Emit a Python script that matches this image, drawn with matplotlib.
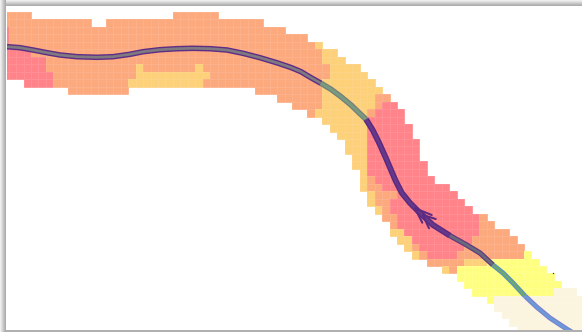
import numpy as np
import matplotlib
matplotlib.use("Agg")
import matplotlib.pyplot as plt
from matplotlib.colors import ListedColormap
from matplotlib.patches import Rectangle

# density classes, low to high
class_codes = "cylor"
class_colors = ["#FBF4DF", "#FEFF80", "#FDD07A", "#FDA97E", "#FF8388"]

# one entry per grid row: class letter + column range
grid_rows = [
    "o0-3 o23-28",
    "o0-11 o14-34",
    "r0 o1-37",
    "r0 o1-40",
    "r0 o1-41 l42",
    "r0-3 o4-42 l43-44",
    "r0-5 o6-42 l43-45",
    "r0-5 o6-17 l18 o19-25 l26 o27-43 l44-47",
    "r0-6 o7-17 l18-27 o28-43 l44-48",
    "r3-6 o7-16 l17-26 o27-42 l43-49",
    "o9-16 o34-42 l43-50",
    "o37-42 l43-49 o50-51",
    "o39-42 l43-49 o50 r51-52",
    "o41 l42-48 o49 r50-53",
    "l43-48 r49-53",
    "l44-48 r49-54",
    "l45-48 r49-54",
    "l46-48 r49-55",
    "l46-48 r49-55",
    "l47-48 r49-55",
    "l47-48 r49-56",
    "l48 r49-56",
    "l48 o49 r50-57",
    "l48 o49-50 r51-59",
    "l49 o50-52 r53-60",
    "l49 o50-51 r52-61",
    "l50 o51 r52-62",
    "o51-52 r53-63 o64",
    "o52 r53-63 o64-65",
    "l52-53 r54-63 o64-67",
    "l53-54 r55-62 o63-68",
    "l54 o55 r56-61 o62-69",
    "l55 o56 r57-60 o61-69 y70",
    "o57-61 l62-64 y65-71",
    "l59 o60 y61-72",
    "y61-73",
    "y62-74",
    "y63-73 c74-76",
    "y65 c66-77",
    "c66-77",
    "c67-77",
    "c68-77",
    "c69-77",
]

# route centre line
route_x = [7, 20, 33, 47, 60, 77, 97, 113, 130, 143, 160, 177, 193, 210, 227, 243, 260, 277, 291,
           301, 311, 321, 331, 341, 351, 359, 366, 372.7, 379.3, 386, 391, 395.5, 401.7, 410, 420,
           433, 450, 466.7, 480, 493, 503, 513, 525, 536.7, 550, 566.7, 580]
route_y = [46.7, 47.7, 50, 52.7, 55, 56.7, 57.3, 56.7, 54.3, 51.7, 49.7, 48.7, 48.3, 48.7, 50,
           53.3, 57.7, 62.8, 67.5, 71.7, 77.7, 83.3, 89.3, 96.7, 105, 112.7, 119.3, 130, 143.3,
           158.3, 170, 180.5, 192.7, 203, 213, 225, 235.7, 245, 253, 265, 273, 283, 296, 307,
           318, 329, 337]

# (first point, last point, edge colour, centre colour, edge width, centre width)
route_sections = [
    (0, 21, "#5E2D86", "#7E7A80", 4.0, 2.0),
    (21, 26, "#72807A", "#7A9A80", 4.0, 2.2),
    (26, 36, "#5A2880", "#66388A", 4.2, 2.2),
    (36, 39, "#5E3C80", "#6A6A7A", 3.8, 2.0),
    (39, 42, "#5E8FC0", "#6CAA6C", 3.6, 1.8),
    (42, 46, "#7E80D0", "#6A9AD8", 3.6, 2.0),
]

# the two arrow heads on the route
arrow_x = [[431.7, 415, 422.3], [435.7, 423, 429]]
arrow_y = [[215, 208.3, 222.7], [219, 215, 228.3]]

# stray dark pixel right of the band
dot_x = [553]
dot_y = [272.7]

grid = np.full((len(grid_rows), 78), np.nan)
for j, row in enumerate(grid_rows):
    for run in row.split():
        ends = run[1:].split("-")
        grid[j, int(ends[0]):int(ends[-1]) + 1] = class_codes.index(run[0])

fig = plt.figure(figsize=(5.82, 3.32), dpi=100)
ax = fig.add_axes([7 / 582, 2 / 332, 575 / 582, 324 / 332])
ax.set_xlim(7, 582)
ax.set_ylim(330, 6)
ax.axis("off")

cell = 7.47
xe = 1.1 + cell * np.arange(grid.shape[1] + 1)
ye = 12 + cell * np.arange(grid.shape[0] + 1)
ax.pcolormesh(xe, ye, np.ma.masked_invalid(grid), cmap=ListedColormap(class_colors),
              vmin=-0.5, vmax=4.5, edgecolors=(1, 1, 1, 0.1), linewidth=0.4)

rx = np.array(route_x, float)
ry = np.array(route_y, float)
for a, b, edge, centre, lw_edge, lw_centre in route_sections:
    ax.plot(rx[a:b + 1], ry[a:b + 1], color=edge, lw=lw_edge, solid_capstyle="butt", solid_joinstyle="round")
for a, b, edge, centre, lw_edge, lw_centre in route_sections:
    ax.plot(rx[a:b + 1], ry[a:b + 1], color=centre, lw=lw_centre, solid_capstyle="butt", solid_joinstyle="round")
for hx, hy in zip(arrow_x, arrow_y):
    ax.plot(hx, hy, color="#5C2A82", lw=1.5, solid_capstyle="round", solid_joinstyle="round")
ax.scatter(dot_x, dot_y, s=1, color="#333333", linewidths=0)

# window shadow round the picture
for i, grey in enumerate(["#eeeeee", "#e2e2e2", "#d4d4d4", "#c6c6c6", "#b8b8b8", "#adadad"]):
    fig.add_artist(Rectangle((i / 582, 0), 1 / 582, 1, transform=fig.transFigure, color=grey, lw=0))
    fig.add_artist(Rectangle((i / 582, 1 - (i + 1) / 332), 1 - i / 582, 1 / 332, transform=fig.transFigure, color=grey, lw=0))
fig.add_artist(Rectangle((6 / 582, 0), 1 - 6 / 582, 2 / 332, transform=fig.transFigure, color="#b0b0b0", lw=0))

fig.savefig("out.png", dpi=100)
